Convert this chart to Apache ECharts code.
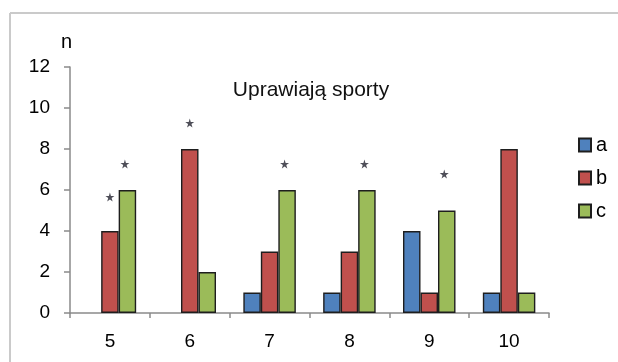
<!DOCTYPE html>
<html>
<head>
<meta charset="utf-8">
<script src="https://cdn.jsdelivr.net/npm/echarts@6/dist/echarts.min.js"></script>
<style>html,body{margin:0;padding:0;background:#fff}#c{width:618px;height:362px}</style>
</head>
<body>
<div id="c"></div>
<script>
var categories = ['5', '6', '7', '8', '9', '10'];
var seriesA = [0, 0, 1, 1, 4, 1];
var seriesB = [4, 8, 3, 3, 1, 8];
var seriesC = [6, 2, 6, 6, 5, 1];
// asterisk marks (height in n units), null = no mark
var starsB = [5.66, 9.27, null, null, null, null];
var starsC = [7.27, null, 7.27, 7.27, 6.78, null];
var yTicks = [0, 2, 4, 6, 8, 10, 12];

var chart = echarts.init(document.getElementById('c'), null, {renderer: 'canvas'});
var font = 'Liberation Sans';
var starPath = 'path://M50,0 L61,35 L98,35 L68,57 L79,91 L50,70 L21,91 L32,57 L2,35 L39,35 Z';
function bar(name, data, color) {
  return {
    name: name, type: 'bar',
    data: data.map(function (v) {
      return v === 0 ? {value: v, itemStyle: {borderWidth: 0}} : v;
    }),
    barWidth: 17.5, barGap: '0%',
    itemStyle: {color: color, borderColor: '#1e1e1e', borderWidth: 1.4},
    emphasis: {disabled: true}
  };
}
function stars(data, dx) {
  return {
    type: 'scatter', data: data, symbol: starPath, symbolSize: 9,
    symbolOffset: [dx, 0],
    itemStyle: {color: '#22222e'}, silent: true, z: 5
  };
}
chart.setOption({
  animation: false,
  textStyle: {fontFamily: font},
  graphic: [
    {type: 'line', shape: {x1: 10, y1: 13, x2: 618, y2: 13}, style: {stroke: '#cacaca', lineWidth: 2}},
    {type: 'line', shape: {x1: 10, y1: 13, x2: 10, y2: 362}, style: {stroke: '#cacaca', lineWidth: 2}},
    {type: 'text', left: 61, top: 32, style: {text: 'n', font: '20px ' + font, fill: '#000'}}
  ],
  title: {
    text: 'Uprawiają sporty', left: 306, top: 75, textAlign: 'center',
    textStyle: {fontFamily: font, fontSize: 21, fontWeight: 'normal', color: '#111'}
  },
  legend: {
    orient: 'vertical', left: 578, top: 135, padding: 0,
    itemWidth: 12, itemHeight: 13, itemGap: 13,
    icon: 'rect',
    data: ['a', 'b', 'c'],
    textStyle: {fontFamily: font, fontSize: 20, color: '#000'},
    selectedMode: false
  },
  grid: {left: 70, right: 69, top: 67, bottom: 49, containLabel: false},
  xAxis: {
    type: 'category', data: categories,
    axisLine: {lineStyle: {color: '#8a8a8a', width: 1.5}},
    axisTick: {show: true, length: 5, alignWithLabel: false, lineStyle: {color: '#8a8a8a', width: 1.5}},
    axisLabel: {fontFamily: font, fontSize: 19, color: '#000', margin: 19}
  },
  yAxis: {
    type: 'value', min: yTicks[0], max: yTicks[yTicks.length - 1], interval: 2,
    axisLine: {show: true, lineStyle: {color: '#8a8a8a', width: 1.5}},
    axisTick: {show: true, length: 6, lineStyle: {color: '#8a8a8a', width: 1.5}},
    splitLine: {show: false},
    axisLabel: {fontFamily: font, fontSize: 19, color: '#000', margin: 20}
  },
  series: [
    bar('a', seriesA, '#4f81bd'),
    bar('b', seriesB, '#c0504d'),
    bar('c', seriesC, '#9bbb59'),
    stars(starsB, 0),
    stars(starsC, 15)
  ]
});
</script>
</body>
</html>
